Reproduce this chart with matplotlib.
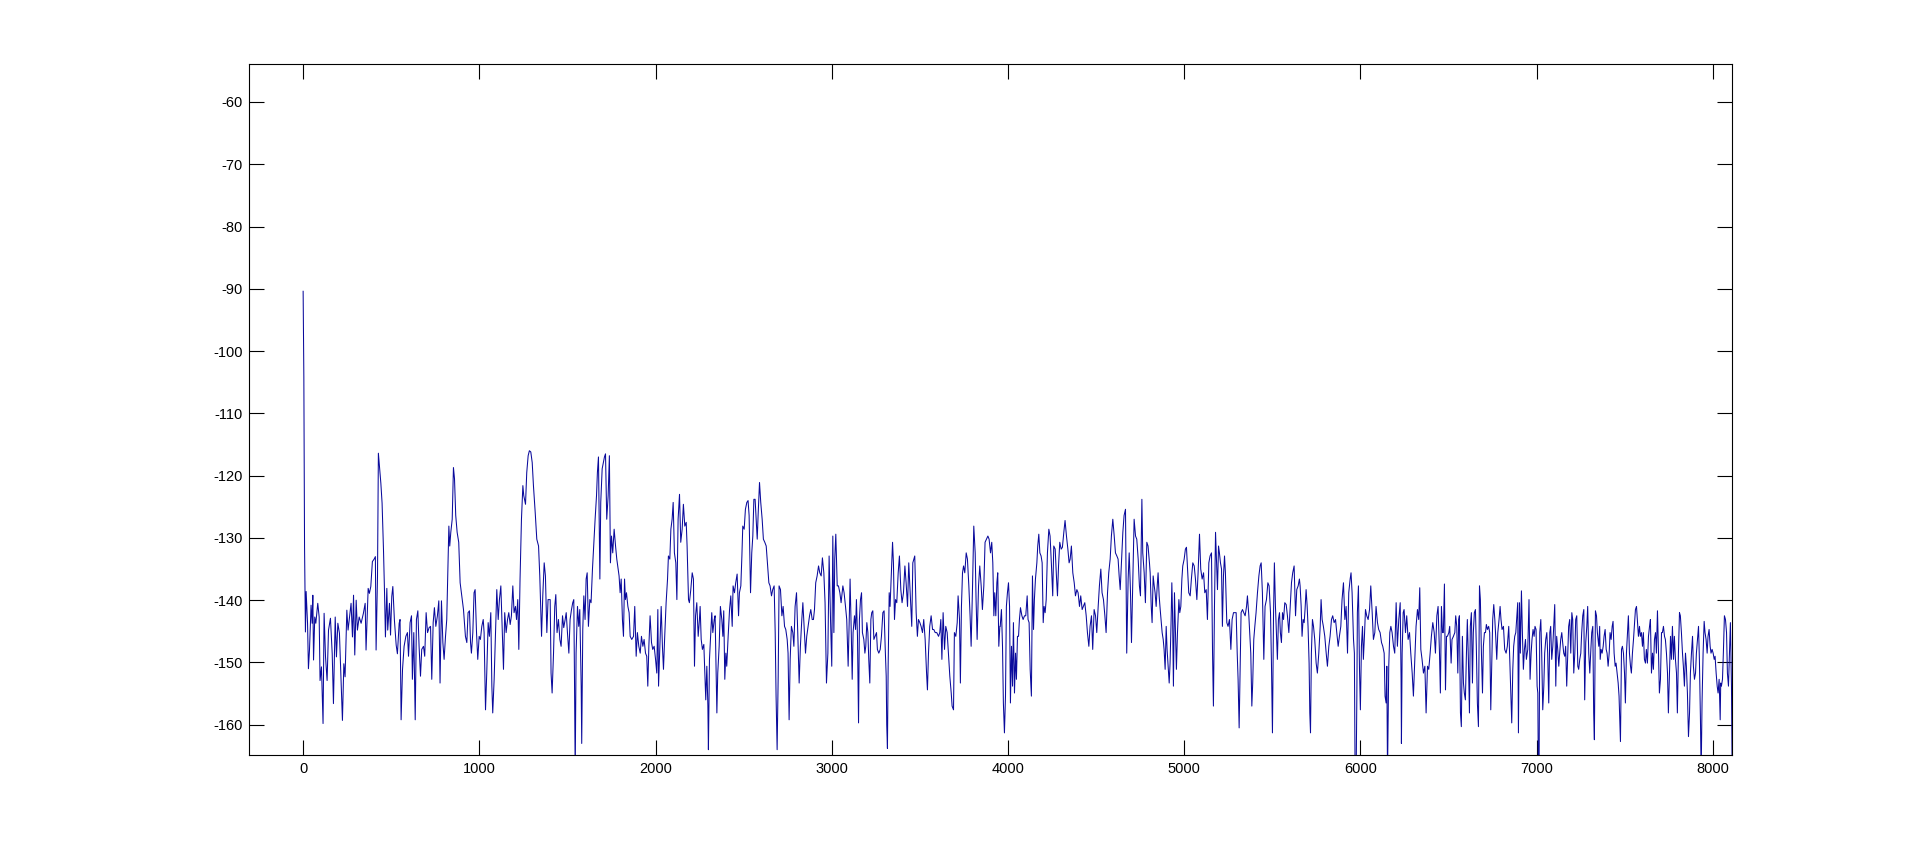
import numpy as np
import matplotlib
matplotlib.use('Agg')
import matplotlib.pyplot as plt

plt.rcParams['axes.unicode_minus'] = False

# spectrum, in pieces of ~850 Hz
freq_a = [0, 4, 8, 13, 17, 25, 30, 36, 45, 51, 55, 59, 66, 72, 83, 91, 96, 104, 113, 119,
          127, 136, 144, 155, 165, 172, 182, 189, 197, 206, 216, 223, 231, 238, 248, 255, 263, 272, 280, 286,
          293, 301, 308, 318, 329, 342, 352, 357, 369, 376, 384, 393, 403, 410, 414, 422, 427, 433, 441, 448,
          456, 462, 467, 475, 480, 490, 496, 503, 509, 518, 528, 535, 545]
level_a = [-90.4, -104.1, -131.4, -145.1, -138.6, -143.7, -151.0, -148.0, -140.8, -143.7,
           -139.2, -149.6, -142.7, -143.7, -140.5, -142.7, -152.9, -150.7, -159.8, -142.1,
           -149.1, -152.9, -144.8, -142.9, -148.6, -156.6, -142.7, -149.1, -143.7, -145.3,
           -153.4, -159.3, -150.2, -152.3, -141.6, -144.8, -142.7, -140.5, -145.9, -139.2,
           -148.8, -140.0, -144.8, -142.7, -143.7, -142.1, -140.5, -148.0, -138.1, -138.9,
           -137.8, -133.8, -133.4, -133.0, -148.0, -136.2, -116.4, -118.5, -121.2, -124.4,
           -131.9, -138.9, -145.9, -138.1, -144.8, -140.5, -145.6, -139.4, -137.8, -143.2,
           -147.2, -148.6, -143.7]

freq_b = [550, 556, 564, 573, 583, 592, 598, 607, 615, 620, 628, 636, 643, 651, 658, 666, 673, 683, 690, 698,
          706, 715, 723, 730, 738, 745, 753, 762, 770, 777, 785, 793, 800, 808, 815, 821, 827, 832, 838, 846,
          853, 859, 866, 874, 883, 891, 900, 910, 921, 929, 936, 944, 950, 955, 963, 970, 976, 984, 991, 999,
          1006, 1014, 1022, 1027, 1035, 1042, 1050, 1057, 1065, 1071, 1076, 1084, 1092, 1099, 1107, 1114, 1122, 1129, 1137, 1144,
          1152, 1160, 1167, 1175, 1182, 1190, 1197, 1205, 1211, 1218, 1224, 1231, 1239, 1247, 1252, 1262, 1269, 1277, 1284, 1292,
          1300, 1307, 1317, 1326, 1336, 1343, 1353, 1360, 1368, 1375, 1383, 1390]
level_b = [-143.1, -159.2, -151.1, -147.4, -145.8, -145.2, -149.0, -143.6, -142.5, -152.7,
           -145.2, -159.2, -143.1, -141.7, -147.4, -152.2, -147.9, -147.4, -149.0, -142.0,
           -145.2, -144.4, -144.2, -152.7, -143.6, -141.2, -144.2, -142.5, -140.1, -153.3,
           -140.1, -146.8, -149.5, -145.8, -143.1, -135.6, -128.1, -131.3, -129.1, -127.0,
           -118.7, -120.5, -126.4, -129.1, -130.7, -137.2, -139.3, -141.5, -145.8, -146.8,
           -142.0, -141.7, -146.8, -148.5, -145.2, -138.8, -138.3, -145.2, -149.5, -145.8,
           -146.3, -144.2, -143.1, -145.2, -157.6, -151.7, -143.6, -145.8, -142.0, -153.8,
           -158.1, -152.7, -145.2, -138.3, -143.1, -139.9, -137.7, -144.2, -151.1, -142.0,
           -145.2, -143.1, -142.0, -143.9, -142.5, -137.7, -142.0, -141.0, -143.1, -139.9,
           -147.9, -136.6, -127.0, -121.6, -123.2, -124.6, -119.5, -116.8, -116.0, -116.2,
           -117.9, -121.6, -125.9, -130.2, -131.3, -136.1, -145.8, -139.3, -134.0, -136.1,
           -145.2, -139.9]

freq_c = [1402, 1407, 1413, 1421, 1428, 1434, 1441, 1449, 1457, 1464, 1472, 1479, 1487, 1493, 1500, 1508, 1515, 1523, 1530, 1536,
          1540, 1544, 1549, 1557, 1564, 1570, 1578, 1581, 1587, 1593, 1600, 1606, 1612, 1619, 1627, 1634, 1642, 1650, 1657, 1665,
          1670, 1676, 1684, 1689, 1697, 1704, 1710, 1716, 1723, 1731, 1738, 1744, 1750, 1757, 1765, 1773, 1780, 1788, 1793, 1799,
          1805, 1812, 1818, 1824, 1829, 1835, 1843, 1850, 1856, 1865, 1875, 1882, 1890, 1897, 1905, 1913, 1920, 1928, 1935, 1943,
          1950, 1956, 1962, 1969, 1977, 1984, 1992, 2000, 2007, 2013, 2017, 2024, 2032, 2039, 2045, 2052, 2060, 2068, 2073, 2081,
          2087, 2094, 2100, 2107, 2115, 2121, 2128, 2136, 2143, 2151, 2158, 2166, 2174, 2179, 2187, 2192, 2200, 2208, 2215, 2221,
          2227, 2234, 2242, 2249]
level_c = [-139.9, -151.7, -154.9, -148.5, -141.0, -139.1, -145.2, -143.1, -146.3, -147.4,
           -142.5, -144.4, -143.1, -142.0, -145.2, -148.5, -143.1, -141.5, -140.4, -139.9,
           -152.7, -168.0, -148.5, -141.0, -144.2, -141.5, -153.8, -163.0, -144.7, -139.3,
           -143.1, -136.6, -135.6, -144.2, -139.9, -140.4, -135.0, -130.7, -127.0, -123.2,
           -119.5, -117.0, -136.6, -124.3, -118.9, -117.9, -117.0, -116.5, -127.0, -123.2,
           -116.8, -134.0, -129.7, -132.4, -128.6, -131.3, -133.4, -135.0, -136.1, -138.8,
           -136.6, -143.1, -145.8, -136.6, -139.9, -138.8, -141.0, -142.0, -145.8, -146.3,
           -145.8, -141.0, -149.0, -145.2, -147.4, -148.5, -145.8, -147.4, -146.3, -148.5,
           -149.0, -153.8, -147.4, -142.5, -146.8, -147.9, -147.4, -149.5, -151.7, -141.5,
           -153.8, -147.9, -141.0, -147.4, -151.1, -145.8, -140.4, -136.6, -132.9, -133.4,
           -128.6, -127.0, -124.3, -132.4, -134.0, -139.9, -127.0, -123.0, -130.7, -128.6,
           -124.6, -128.1, -127.5, -131.3, -139.9, -140.4, -138.3, -135.6, -136.6, -150.6,
           -142.5, -140.4, -145.8, -143.1]

freq_d = [2253, 2259, 2266, 2274, 2280, 2285, 2291, 2297, 2300, 2306, 2314, 2319, 2325, 2333, 2338, 2344, 2348, 2353, 2361, 2368,
          2376, 2382, 2387, 2393, 2399, 2404, 2412, 2420, 2427, 2435, 2440, 2448, 2455, 2463, 2471, 2476, 2484, 2490, 2495, 2503,
          2510, 2518, 2525, 2531, 2539, 2546, 2552, 2558, 2565, 2571, 2577, 2582, 2590, 2597, 2605, 2612, 2620, 2628, 2635, 2643,
          2650, 2658, 2665, 2673, 2679, 2684, 2690, 2696, 2701, 2709, 2717, 2724, 2732, 2739, 2747, 2752, 2758, 2764, 2771, 2779,
          2785, 2792, 2800, 2807, 2815, 2822, 2830, 2836, 2843, 2851, 2858, 2866, 2874, 2881, 2889, 2896, 2902, 2909, 2917, 2925,
          2932, 2940, 2947, 2955, 2962, 2970, 2978, 2985, 2993, 3000, 3006, 3012, 3017, 3023, 3031, 3038, 3046, 3053, 3063, 3070,
          3078, 3085, 3093, 3101]
level_d = [-141.0, -146.3, -147.9, -147.1, -151.7, -156.0, -150.6, -157.0, -164.0, -149.5,
           -144.7, -142.0, -145.2, -143.1, -142.5, -151.7, -158.1, -151.7, -147.4, -141.0,
           -143.1, -145.8, -141.7, -152.7, -148.5, -150.6, -145.8, -141.5, -139.3, -144.2,
           -137.7, -138.8, -137.2, -135.8, -142.5, -138.8, -137.7, -132.9, -128.1, -128.6,
           -125.4, -124.3, -124.0, -126.4, -138.8, -132.4, -129.7, -123.8, -123.8, -127.0,
           -130.2, -126.4, -121.1, -124.3, -127.0, -130.2, -130.7, -131.3, -134.0, -137.2,
           -137.7, -139.3, -138.3, -137.7, -145.2, -155.4, -164.0, -152.2, -137.7, -138.3,
           -142.5, -141.0, -144.2, -144.7, -146.3, -148.5, -159.2, -149.5, -144.2, -145.2,
           -147.4, -141.0, -138.8, -145.2, -153.3, -147.4, -143.1, -140.4, -144.2, -148.5,
           -145.8, -144.2, -142.5, -141.5, -143.1, -143.1, -141.5, -137.2, -136.1, -134.5,
           -135.6, -136.1, -133.2, -135.6, -140.4, -153.3, -148.5, -132.9, -143.1, -150.6,
           -129.7, -145.2, -133.4, -129.4, -137.7, -137.7, -138.8, -140.4, -137.7, -138.8,
           -141.0, -143.1, -150.6, -141.0]

freq_e = [3104, 3110, 3116, 3121, 3129, 3135, 3140, 3146, 3152, 3157, 3163, 3169, 3174, 3182, 3188, 3193, 3199, 3205, 3210, 3216,
          3222, 3227, 3233, 3239, 3246, 3254, 3259, 3267, 3275, 3282, 3290, 3297, 3303, 3309, 3312, 3316, 3320, 3326, 3331, 3339,
          3345, 3350, 3356, 3362, 3369, 3377, 3384, 3392, 3399, 3407, 3415, 3422, 3430, 3437, 3445, 3454, 3460, 3466, 3471, 3479,
          3486, 3492, 3500, 3507, 3515, 3522, 3530, 3538, 3543, 3549, 3556, 3564, 3572, 3579, 3587, 3596, 3606, 3613, 3619, 3625,
          3632, 3640, 3647, 3655, 3662, 3670, 3678, 3683, 3691, 3696, 3704, 3712, 3717, 3725, 3730, 3736, 3742, 3748, 3755, 3763,
          3770, 3778, 3785, 3791, 3799, 3806, 3814, 3819, 3825, 3833, 3840, 3848, 3855, 3863, 3870, 3878, 3886, 3893, 3901, 3908,
          3914, 3920, 3925, 3931, 3937, 3942, 3948, 3954]
level_e = [-136.6, -144.2, -152.7, -145.2, -142.5, -144.7, -139.9, -145.8, -159.7, -143.1,
           -139.9, -138.8, -145.2, -146.3, -148.5, -147.4, -143.6, -145.2, -149.5, -153.3,
           -143.1, -142.0, -141.7, -146.3, -145.8, -145.2, -147.9, -148.5, -147.9, -145.8,
           -142.0, -141.7, -147.4, -152.2, -160.0, -163.8, -150.6, -138.8, -141.0, -135.0,
           -130.7, -134.0, -143.1, -139.9, -140.4, -135.6, -132.9, -138.3, -140.4, -138.8,
           -134.5, -137.2, -141.0, -134.0, -138.8, -144.2, -134.0, -133.4, -132.9, -142.0,
           -145.8, -143.1, -143.6, -144.2, -145.2, -143.1, -146.3, -151.7, -154.4, -148.5,
           -144.2, -142.5, -144.7, -144.7, -145.2, -145.2, -145.8, -145.2, -143.1, -149.5,
           -142.0, -147.9, -144.2, -145.2, -148.5, -152.2, -154.9, -157.0, -157.6, -145.2,
           -145.8, -143.6, -139.3, -143.1, -153.3, -141.0, -135.6, -134.5, -135.6, -132.4,
           -133.4, -137.7, -142.5, -147.4, -137.7, -128.1, -132.4, -139.9, -146.3, -137.7,
           -134.5, -137.7, -141.5, -137.7, -130.7, -130.2, -129.7, -130.2, -132.4, -130.7,
           -134.0, -142.5, -138.8, -142.5, -137.2, -135.6, -147.4, -144.2]

freq_f = [3956, 3963, 3969, 3974, 3980, 3986, 3991, 3997, 4003, 4009, 4014, 4020, 4026, 4031, 4037, 4043, 4048, 4054, 4060, 4065,
          4071, 4079, 4086, 4094, 4101, 4109, 4114, 4120, 4126, 4133, 4139, 4145, 4150, 4156, 4164, 4169, 4175, 4181, 4188, 4194,
          4200, 4205, 4211, 4217, 4224, 4232, 4239, 4247, 4254, 4260, 4268, 4275, 4281, 4287, 4294, 4302, 4309, 4317, 4324, 4332,
          4340, 4347, 4353, 4360, 4368, 4376, 4383, 4391, 4398, 4406, 4413, 4421, 4428, 4436, 4444, 4451, 4459, 4466, 4474, 4481,
          4489, 4497, 4504, 4512, 4519, 4527, 4534, 4542, 4550, 4557, 4565, 4572, 4580, 4587, 4595, 4603, 4610, 4618, 4625, 4631,
          4637, 4644, 4652, 4659, 4667, 4674, 4682, 4688, 4695, 4701, 4708, 4716, 4724, 4731, 4739, 4746, 4752, 4760, 4765, 4773,
          4780, 4788, 4795, 4803]
level_f = [-144.2, -141.5, -147.4, -156.5, -161.3, -155.4, -141.0, -138.8, -137.2, -141.0,
           -156.5, -147.4, -153.8, -143.6, -154.9, -148.5, -152.7, -145.8, -145.8, -143.1,
           -141.2, -142.5, -143.1, -142.5, -142.5, -139.3, -143.1, -143.6, -151.1, -155.4,
           -136.1, -144.7, -139.9, -136.6, -134.0, -131.3, -129.4, -132.4, -132.9, -134.0,
           -143.6, -141.0, -142.0, -139.9, -132.4, -128.6, -129.7, -134.5, -139.3, -131.3,
           -131.8, -136.1, -139.3, -134.5, -130.7, -131.8, -131.5, -129.1, -127.2, -129.7,
           -131.8, -134.0, -133.4, -131.3, -135.6, -137.2, -139.3, -138.3, -138.8, -141.0,
           -139.3, -141.5, -141.0, -140.4, -142.5, -145.2, -147.4, -144.2, -142.5, -147.9,
           -141.5, -142.5, -145.2, -141.0, -137.7, -135.0, -138.8, -139.9, -142.5, -145.2,
           -138.8, -135.6, -133.4, -129.7, -127.0, -129.7, -132.4, -132.9, -133.4, -136.1,
           -138.3, -134.0, -129.1, -126.4, -125.4, -148.5, -136.6, -132.4, -138.3, -146.8,
           -137.2, -127.0, -129.7, -130.2, -133.4, -137.7, -139.3, -123.8, -132.4, -135.6,
           -140.4, -130.7, -131.3, -134.0]

freq_g = [4807, 4813, 4818, 4824, 4830, 4835, 4841, 4847, 4852, 4858, 4864, 4869, 4875, 4881, 4886, 4892, 4898, 4903, 4909, 4915,
          4920, 4926, 4930, 4934, 4939, 4945, 4951, 4956, 4962, 4970, 4975, 4981, 4987, 4992, 5000, 5007, 5013, 5019, 5026, 5034,
          5041, 5049, 5057, 5064, 5072, 5079, 5087, 5094, 5102, 5110, 5117, 5125, 5132, 5140, 5147, 5155, 5161, 5166, 5172, 5178,
          5183, 5189, 5195, 5200, 5206, 5212, 5217, 5223, 5229, 5234, 5242, 5249, 5257, 5265, 5272, 5280, 5287, 5295, 5301, 5306,
          5312, 5318, 5323, 5331, 5338, 5346, 5354, 5359, 5367, 5372, 5378, 5384, 5389, 5395, 5401, 5408, 5416, 5424, 5431, 5437,
          5444, 5452, 5459, 5467, 5475, 5482, 5490, 5495, 5501, 5507, 5512, 5518, 5524, 5529, 5535, 5541, 5546, 5552, 5558, 5564,
          5571, 5579, 5586, 5594, 5601, 5609, 5616, 5624, 5632, 5639, 5647, 5654]
level_g = [-135.6, -141.0, -143.6, -136.1, -137.7, -138.8, -141.0, -137.7, -135.6, -139.3,
           -141.5, -143.1, -145.2, -146.3, -147.9, -151.1, -144.2, -147.9, -150.6, -153.3,
           -150.1, -143.1, -137.2, -142.0, -153.8, -138.8, -145.8, -151.1, -145.2, -139.9,
           -142.0, -141.0, -136.6, -134.5, -133.4, -131.8, -131.5, -135.0, -138.8, -139.3,
           -136.6, -134.0, -134.5, -136.6, -139.9, -135.6, -129.4, -135.0, -136.6, -135.6,
           -138.8, -138.3, -143.1, -134.0, -132.9, -132.4, -148.5, -157.0, -141.0, -129.1,
           -133.4, -138.3, -131.3, -132.4, -134.0, -135.0, -144.2, -136.1, -132.9, -135.6,
           -143.6, -144.2, -143.1, -147.9, -143.1, -142.0, -142.0, -142.0, -148.5, -152.7,
           -160.5, -150.1, -142.0, -141.5, -142.0, -142.5, -141.0, -139.3, -142.5, -145.2,
           -148.5, -157.0, -153.3, -146.3, -144.2, -142.0, -138.8, -136.1, -134.5, -134.0,
           -138.8, -149.5, -141.0, -139.9, -137.2, -137.7, -142.0, -149.5, -161.3, -142.5,
           -134.0, -141.0, -145.8, -149.5, -143.1, -142.0, -145.2, -146.8, -142.0, -143.1,
           -140.4, -140.7, -142.5, -145.2, -141.5, -137.2, -135.6, -134.5, -142.5, -138.3,
           -137.7, -136.6]

freq_h = [5658, 5664, 5669, 5675, 5681, 5686, 5692, 5698, 5703, 5709, 5713, 5717, 5722, 5728, 5734, 5741, 5749, 5756, 5764, 5772,
          5777, 5783, 5790, 5798, 5806, 5813, 5821, 5828, 5836, 5843, 5851, 5859, 5866, 5874, 5881, 5889, 5896, 5904, 5912, 5919,
          5927, 5934, 5942, 5947, 5953, 5961, 5966, 5970, 5976, 5980, 5983, 5989, 5995, 6000, 6006, 6012, 6017, 6023, 6029, 6036,
          6044, 6052, 6059, 6067, 6074, 6082, 6089, 6097, 6104, 6112, 6120, 6127, 6135, 6140, 6146, 6150, 6154, 6157, 6161, 6167,
          6173, 6180, 6188, 6195, 6203, 6210, 6218, 6226, 6231, 6233, 6237, 6243, 6248, 6256, 6263, 6271, 6279, 6286, 6294, 6301,
          6309, 6316, 6324, 6331, 6337, 6343, 6350, 6358, 6366, 6373, 6381, 6388, 6396, 6403, 6411, 6419, 6426, 6434, 6441, 6449,
          6454, 6460, 6466, 6471, 6477, 6483, 6489, 6494, 6502, 6507]
level_h = [-137.7, -141.0, -145.8, -143.1, -143.6, -141.5, -138.3, -141.0, -144.2, -150.1,
           -158.1, -161.3, -148.5, -143.1, -144.2, -146.3, -150.1, -151.7, -148.5, -144.2,
           -139.9, -143.1, -144.2, -145.8, -148.5, -150.6, -147.4, -145.8, -143.1, -142.5,
           -143.6, -143.1, -145.2, -147.4, -145.8, -144.2, -139.9, -137.2, -143.1, -141.0,
           -148.5, -138.8, -136.6, -135.6, -138.8, -146.3, -148.5, -168.0, -168.0, -155.4,
           -142.0, -137.7, -151.1, -157.6, -147.4, -144.2, -149.5, -145.8, -141.5, -142.5,
           -143.1, -141.5, -137.7, -142.0, -146.3, -145.2, -141.0, -143.6, -144.7, -145.2,
           -146.8, -147.4, -148.5, -155.4, -156.5, -150.6, -168.0, -160.3, -150.6, -145.2,
           -144.2, -145.2, -147.4, -148.5, -140.4, -147.4, -143.1, -140.4, -152.7, -163.0,
           -148.5, -142.0, -141.5, -145.2, -142.5, -146.3, -145.2, -148.5, -151.7, -155.4,
           -149.5, -144.2, -141.5, -143.1, -138.0, -147.9, -149.5, -151.7, -150.6, -158.1,
           -150.6, -151.1, -148.5, -145.8, -143.6, -145.2, -148.5, -142.5, -141.0, -148.5,
           -154.9, -141.0, -145.2, -145.2, -137.4, -154.4, -145.8, -145.8, -145.2, -144.2]

freq_i = [6509, 6515, 6520, 6528, 6536, 6541, 6547, 6553, 6558, 6562, 6568, 6573, 6579, 6585, 6590, 6596, 6602, 6607, 6613, 6619,
          6624, 6630, 6636, 6641, 6647, 6653, 6658, 6664, 6670, 6676, 6681, 6687, 6693, 6698, 6704, 6710, 6715, 6721, 6728, 6734,
          6740, 6746, 6751, 6757, 6763, 6768, 6774, 6780, 6787, 6793, 6798, 6804, 6812, 6819, 6827, 6834, 6842, 6848, 6853, 6859,
          6865, 6870, 6876, 6882, 6887, 6893, 6897, 6903, 6908, 6914, 6920, 6925, 6931, 6937, 6942, 6950, 6957, 6963, 6969, 6974,
          6980, 6986, 6991, 6997, 7003, 7007, 7010, 7014, 7018, 7024, 7029, 7035, 7041, 7046, 7052, 7058, 7063, 7069, 7075, 7080,
          7086, 7092, 7097, 7103, 7109, 7114, 7120, 7126, 7131, 7137, 7143, 7148, 7154, 7160, 7165, 7171, 7177, 7182, 7188, 7194,
          7200, 7205, 7211, 7217, 7222, 7228, 7234, 7239, 7245, 7251, 7256, 7262, 7268, 7273, 7279, 7285, 7290, 7296, 7302, 7307,
          7313, 7319, 7324, 7328, 7334, 7340, 7345, 7353, 7358]
level_i = [-145.8, -150.1, -146.3, -145.8, -145.2, -142.5, -144.2, -151.7, -143.1, -142.5,
           -158.1, -160.3, -145.8, -153.3, -154.9, -156.0, -148.5, -143.1, -149.5, -158.1,
           -144.2, -142.0, -153.3, -145.2, -142.0, -141.5, -147.4, -156.5, -160.3, -137.7,
           -139.9, -148.5, -154.9, -147.4, -145.2, -145.2, -143.9, -144.7, -144.2, -145.2,
           -157.6, -149.5, -143.1, -140.7, -143.1, -145.8, -149.5, -145.2, -143.1, -141.0,
           -143.1, -144.7, -144.2, -147.9, -148.5, -147.4, -144.2, -149.5, -153.8, -159.7,
           -151.1, -147.4, -145.8, -145.2, -143.1, -140.4, -161.3, -140.4, -148.5, -138.5,
           -145.8, -151.1, -147.9, -146.3, -149.5, -147.9, -139.9, -152.7, -148.5, -146.3,
           -144.7, -145.8, -144.2, -144.7, -153.8, -154.9, -168.0, -168.0, -145.2, -143.1,
           -148.5, -157.6, -153.8, -148.5, -146.3, -145.2, -148.5, -156.5, -145.2, -144.2,
           -149.5, -147.4, -144.2, -140.7, -153.8, -145.8, -147.9, -150.6, -148.5, -146.3,
           -145.2, -146.8, -148.5, -149.0, -147.4, -153.8, -148.5, -144.2, -143.1, -148.5,
           -142.0, -143.1, -151.7, -148.5, -143.1, -142.5, -150.6, -151.1, -149.5, -148.5,
           -145.2, -142.5, -141.5, -156.0, -146.8, -144.2, -141.0, -148.5, -151.7, -148.5,
           -145.2, -144.2, -158.1, -162.4, -141.7, -142.5, -145.2, -147.4, -144.2]

freq_j = [7361, 7366, 7372, 7378, 7383, 7389, 7395, 7400, 7406, 7412, 7417, 7423, 7429, 7434, 7440, 7446, 7451, 7457, 7463, 7468,
          7472, 7476, 7482, 7487, 7493, 7499, 7504, 7510, 7516, 7521, 7527, 7533, 7538, 7544, 7550, 7555, 7561, 7567, 7572, 7578,
          7584, 7589, 7595, 7601, 7606, 7612, 7618, 7623, 7629, 7635, 7641, 7646, 7652, 7658, 7663, 7669, 7675, 7680, 7686, 7692,
          7697, 7703, 7709, 7714, 7720, 7726, 7731, 7737, 7743, 7748, 7754, 7760, 7765, 7771, 7777, 7782, 7788, 7794, 7799, 7805,
          7811, 7816, 7822, 7828, 7833, 7839, 7845, 7850, 7856, 7862, 7868, 7873, 7879, 7885, 7890, 7896, 7902, 7907, 7913, 7919,
          7924, 7930, 7934, 7939, 7945, 7951, 7956, 7962, 7968, 7973, 7979, 7985, 7990, 7996, 8002, 8008, 8013, 8019, 8025, 8030,
          8036, 8042, 8045, 8049, 8055, 8060, 8066, 8072, 8078, 8083, 8089, 8095, 8100, 8106, 8110]
level_j = [-149.5, -147.9, -148.5, -147.4, -145.8, -144.7, -147.9, -148.5, -150.6, -148.5,
           -145.2, -146.3, -144.2, -143.4, -148.5, -150.6, -150.1, -151.7, -153.3, -155.4,
           -159.2, -162.7, -147.9, -147.4, -148.5, -151.7, -156.5, -148.5, -145.2, -142.5,
           -148.5, -150.6, -151.7, -148.5, -146.3, -144.2, -141.5, -141.0, -143.1, -145.8,
           -144.2, -145.8, -145.2, -147.4, -145.2, -149.5, -150.1, -147.9, -150.1, -145.8,
           -144.2, -143.1, -151.7, -148.5, -151.1, -146.3, -145.2, -148.5, -141.7, -148.5,
           -154.9, -152.7, -145.2, -145.2, -144.2, -145.8, -146.3, -148.5, -151.7, -158.1,
           -151.7, -145.8, -149.5, -144.2, -149.5, -145.8, -149.5, -151.7, -158.1, -148.5,
           -142.0, -142.5, -145.2, -148.5, -150.6, -153.8, -148.5, -150.6, -154.9, -161.9,
           -158.1, -151.7, -148.5, -145.8, -150.6, -152.7, -151.7, -148.5, -146.3, -144.2,
           -149.5, -159.2, -168.0, -156.5, -148.5, -143.4, -145.2, -146.3, -148.5, -145.8,
           -144.7, -147.4, -148.5, -147.9, -148.5, -149.5, -149.0, -151.7, -153.8, -154.9,
           -152.7, -159.2, -153.3, -153.8, -152.7, -148.5, -142.5, -143.1, -145.2, -151.7,
           -153.8, -148.5, -143.6, -153.8, -168.0]

freqs = [freq_a, freq_b, freq_c, freq_d, freq_e, freq_f, freq_g, freq_h, freq_i, freq_j]
levels = [level_a, level_b, level_c, level_d, level_e, level_f, level_g, level_h, level_i, level_j]
for f, l in zip(freqs, levels):
    assert len(f) == len(l), (f[0], len(f), len(l))

f = np.concatenate(freqs)
p = np.concatenate(levels)

fig = plt.figure(figsize=(19.14, 8.48), dpi=100)
ax = fig.add_axes([0.1303, 0.1097, 0.7747, 0.8145])
ax.plot(f, p, color='#0a0a9c', lw=0.75)

ax.set_xlim(-305, 8110)
ax.set_ylim(-164.85, -53.95)
ax.set_xticks(np.arange(0, 8001, 1000))
ax.set_yticks(np.arange(-160, -59, 10))

ax.tick_params(direction='in', top=True, right=True, length=10.5, width=0.8,
               labelsize=10.5, pad=5)
for lab in ax.get_xticklabels() + ax.get_yticklabels():
    lab.set_family('Liberation Sans')
for s in ax.spines.values():
    s.set_linewidth(0.8)

fig.savefig('out.png', dpi=100)
